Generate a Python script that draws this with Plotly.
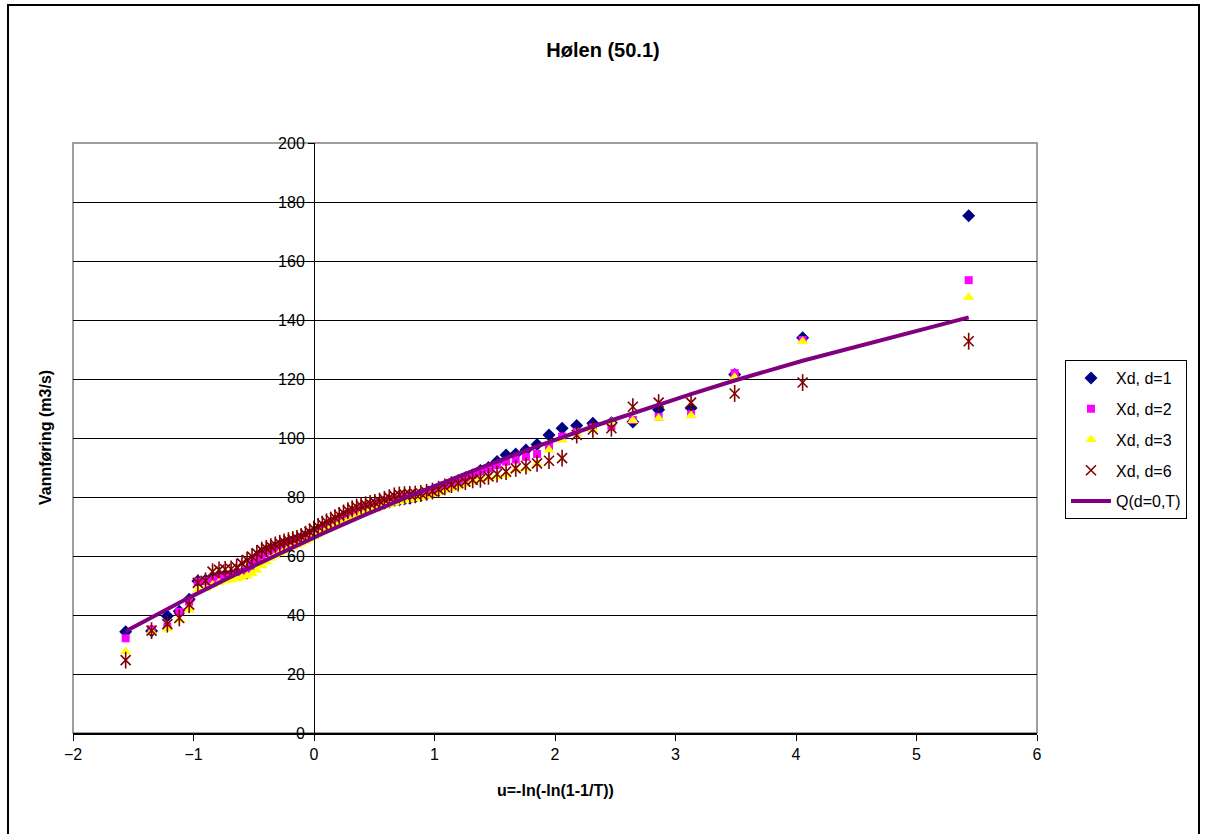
import plotly.graph_objects as go

# Gumbel reduced variate for each ranked flood (ascending)
u = [-1.563, -1.348, -1.217, -1.118, -1.036, -0.964, -0.900, -0.842, -0.788, -0.737,
     -0.688, -0.642, -0.598, -0.555, -0.514, -0.474, -0.434, -0.396, -0.358, -0.321,
     -0.284, -0.248, -0.212, -0.176, -0.141, -0.106, -0.071, -0.036, -0.001, 0.034,
     0.069, 0.104, 0.139, 0.174, 0.209, 0.245, 0.281, 0.317, 0.354, 0.391,
     0.428, 0.466, 0.505, 0.544, 0.584, 0.625, 0.666, 0.708, 0.751, 0.795,
     0.840, 0.887, 0.934, 0.983, 1.034, 1.086, 1.141, 1.197, 1.256, 1.317,
     1.381, 1.448, 1.519, 1.594, 1.674, 1.759, 1.851, 1.950, 2.059, 2.180,
     2.314, 2.468, 2.646, 2.860, 3.129, 3.491, 4.055, 5.433]

xd1 = [34.3, 34.6, 39.7, 41.3, 45.3, 51.5, 51.8, 52.3, 52.8, 53.2,
       53.5, 53.7, 54.0, 54.2, 57.0, 59.5, 61.0, 61.8, 62.5, 63.0,
       63.5, 64.0, 64.5, 65.0, 65.5, 66.0, 66.6, 67.3, 68.0, 68.8,
       69.5, 70.2, 70.8, 71.5, 72.0, 72.6, 73.3, 74.0, 74.6, 75.2,
       75.8, 76.3, 76.8, 77.3, 77.8, 78.3, 78.7, 79.0, 79.3, 79.6,
       80.0, 80.5, 81.0, 81.6, 82.4, 83.5, 84.6, 85.5, 86.5, 87.5,
       89.0, 90.0, 92.0, 94.2, 94.6, 95.9, 97.8, 101.0, 103.3, 104.2,
       105.0, 105.2, 105.4, 109.6, 110.2, 121.5, 134.0, 175.3]

xd2 = [32.1, 35.1, 36.0, 41.1, 44.5, 51.3, 51.5, 52.0, 52.5, 53.0,
       53.3, 53.7, 54.5, 55.5, 57.0, 58.8, 60.2, 61.2, 62.0, 62.6,
       63.2, 63.7, 64.2, 64.7, 65.2, 65.8, 66.4, 67.0, 67.8, 68.6,
       69.4, 70.2, 70.9, 71.6, 72.2, 72.9, 73.6, 74.3, 74.9, 75.5,
       76.1, 76.6, 77.1, 77.6, 78.1, 78.6, 79.0, 79.4, 79.7, 80.0,
       80.4, 80.9, 81.5, 82.1, 82.8, 83.6, 84.6, 85.6, 86.6, 87.6,
       88.7, 89.7, 90.8, 92.0, 92.7, 93.6, 94.6, 97.0, 100.5, 102.1,
       103.6, 103.9, 106.1, 107.2, 108.1, 122.0, 133.2, 153.5]

xd3 = [27.6, 34.3, 35.3, 38.3, 41.7, 48.5, 49.0, 50.2, 51.0, 51.5,
       51.9, 52.3, 52.7, 53.2, 54.0, 55.2, 56.7, 58.0, 59.2, 60.2,
       61.0, 61.8, 62.5, 63.1, 63.7, 64.3, 65.0, 65.8, 66.6, 67.4,
       68.2, 68.9, 69.6, 70.3, 71.0, 71.6, 72.2, 72.9, 73.6, 74.3,
       74.9, 75.5, 76.0, 76.5, 77.0, 77.5, 78.0, 78.4, 78.8, 79.1,
       79.4, 79.8, 80.3, 80.9, 81.5, 82.2, 82.9, 83.6, 84.4, 85.2,
       86.0, 86.4, 86.9, 87.5, 89.2, 89.6, 91.4, 95.9, 99.3, 101.6,
       103.0, 105.3, 105.9, 106.7, 107.6, 120.6, 132.7, 147.7]

xd6 = [24.7, 34.7, 36.9, 39.0, 43.5, 50.9, 51.6, 54.7, 55.3, 55.5,
       55.6, 56.2, 57.5, 58.6, 59.8, 60.9, 62.0, 62.6, 63.2, 63.8,
       64.3, 64.8, 65.2, 65.6, 66.0, 66.6, 67.4, 68.2, 69.2, 70.0,
       70.8, 71.6, 72.2, 73.0, 73.8, 74.6, 75.4, 76.0, 76.6, 77.0,
       77.4, 77.8, 78.2, 78.6, 79.2, 79.8, 80.4, 80.7, 80.8, 80.9,
       81.0, 81.2, 81.6, 82.0, 82.6, 83.4, 84.2, 84.7, 85.2, 85.8,
       86.0, 87.0, 87.8, 88.6, 89.7, 90.5, 91.4, 92.3, 93.2, 101.0,
       102.9, 103.3, 110.6, 112.0, 112.0, 115.1, 118.8, 132.8]

# Fitted flood frequency curve Q(d=0,T)
u_q = [-1.563, -1.036, -0.688, -0.284, 0.069, 0.428, 0.840, 1.381, 1.851,
       2.314, 2.646, 3.129, 3.491, 4.055, 5.433]
q0 = [34.5, 45.9, 53.0, 60.9, 67.6, 74.0, 81.1, 89.9, 97.2,
      103.9, 108.5, 114.9, 119.5, 126.2, 140.9]

assert len(u) == len(xd1) == len(xd2) == len(xd3) == len(xd6)

FONT = "Arial, 'Liberation Sans', sans-serif"
STAR = "#800000"

fig = go.Figure()
fig.add_trace(go.Scatter(x=u, y=xd1, mode="markers", name="Xd, d=1", legendgroup="a",
                         marker=dict(symbol="diamond", size=10, color="#000080")))
fig.add_trace(go.Scatter(x=u, y=xd2, mode="markers", name="Xd, d=2", legendgroup="b",
                         marker=dict(symbol="square", size=8, color="#FF00FF")))
fig.add_trace(go.Scatter(x=u, y=xd3, mode="markers", name="Xd, d=3", legendgroup="c",
                         marker=dict(symbol="triangle-up", size=10, color="#FFFF00")))
# star marker = diagonal cross plus a vertical stroke
fig.add_trace(go.Scatter(x=u, y=xd6, mode="markers", name="Xd, d=6", legendgroup="d",
                         marker=dict(symbol="x-thin", size=10, color=STAR,
                                     line=dict(width=1.6, color=STAR))))
fig.add_trace(go.Scatter(x=u, y=xd6, mode="markers", name="Xd, d=6", legendgroup="d",
                         showlegend=False, hoverinfo="skip",
                         marker=dict(symbol="line-ns", size=12, color=STAR,
                                     line=dict(width=1.6, color=STAR))))
fig.add_trace(go.Scatter(x=u_q, y=q0, mode="lines", name="Q(d=0,T)", legendgroup="e",
                         line=dict(color="#800080", width=4)))

L, R, T, B = 73, 169, 143, 101
W, H = 1206, 834
pw, ph = W - L - R, H - T - B

fig.update_layout(
    width=W, height=H,
    margin=dict(l=L, r=R, t=T, b=B),
    paper_bgcolor="white", plot_bgcolor="white",
    font=dict(family=FONT, size=13, color="black"),
    title=dict(text="<b>Hølen (50.1)</b>", x=0.5, xref="container", xanchor="center",
               y=1 - 50 / H, yref="container", yanchor="middle",
               font=dict(family=FONT, size=20, color="black")),
    showlegend=True,
    legend=dict(x=(1065 - L) / pw, y=(733 - 360) / ph, xanchor="left", yanchor="top",
                bordercolor="black", borderwidth=1, bgcolor="white",
                font=dict(family=FONT, size=16, color="black"),
                tracegroupgap=7, traceorder="grouped", itemwidth=40),
    xaxis=dict(range=[-2, 6], dtick=1, tick0=0, showgrid=False, zeroline=False,
               showline=True, linecolor="black", linewidth=1.5,
               ticks="outside", ticklen=6, tickcolor="black",
               tickfont=dict(family=FONT, size=16)),
    yaxis=dict(range=[0, 200], dtick=20, tick0=0, showgrid=True, gridcolor="black",
               gridwidth=1, zeroline=False, showline=True, linecolor="black",
               linewidth=1, anchor="free", position=0.25, ticks="outside",
               ticklen=6, tickcolor="black", tickfont=dict(family=FONT, size=16)),
    annotations=[
        dict(text="<b>u=-ln(-ln(1-1/T))</b>", xref="paper", yref="paper",
             x=0.5, y=-(790 - 733) / ph, xanchor="center", yanchor="middle",
             showarrow=False, font=dict(family=FONT, size=16)),
        dict(text="<b>Vannføring (m3/s)</b>", xref="paper", yref="paper",
             x=(45 - L) / pw, y=(733 - 438) / ph, xanchor="center", yanchor="middle",
             textangle=-90, showarrow=False, font=dict(family=FONT, size=16)),
    ],
    shapes=[
        # grey border of the plotting area
        dict(type="rect", xref="paper", yref="paper", x0=0, x1=1, y0=0, y1=1,
             line=dict(color="#808080", width=1.5), layer="below"),
        # outer frame of the chart
        dict(type="rect", xref="paper", yref="paper",
             x0=(8 - L) / pw, x1=(1199 - L) / pw, y0=(733 - 850) / ph, y1=(733 - 5) / ph,
             line=dict(color="black", width=2), layer="below"),
    ],
)

fig.write_html("out.html")
